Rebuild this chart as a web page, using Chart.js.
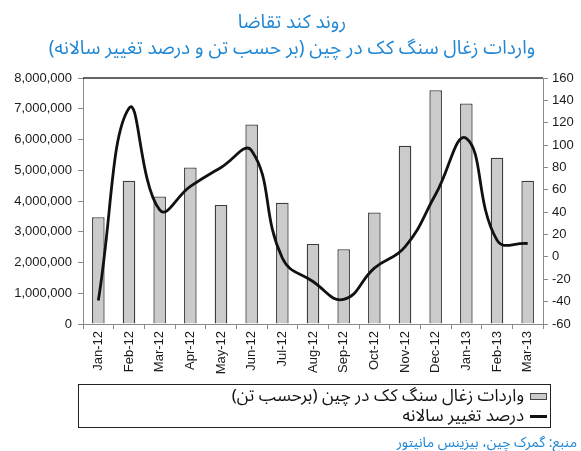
<!DOCTYPE html>
<html>
<head>
<meta charset="utf-8">
<script src="https://cdn.jsdelivr.net/npm/chart.js@4.4.1/dist/chart.umd.min.js"></script>
<style>
  html, body { margin: 0; padding: 0; background: #ffffff; }
  #wrap { position: relative; width: 581px; height: 451px; overflow: hidden; background: #fff; }
  #c { position: absolute; left: 0; top: 0; }
  .fa { font-family: "Noto Sans Arabic", "DejaVu Sans", sans-serif; direction: rtl; position: absolute; white-space: nowrap; line-height: 1; }
  .title { color: #1f86d3; font-size: 19px; left: 0; width: 584px; text-align: center; }
  #legend { position: absolute; left: 78px; top: 384px; width: 473px; height: 44px; border: 1px solid #222; box-sizing: border-box; }
  .lrow { position: absolute; right: 3px; height: 20px; display: flex; flex-direction: row; align-items: center; direction: rtl; font-family: "Noto Sans Arabic", "DejaVu Sans", sans-serif; font-size: 17px; color: #111; white-space: nowrap; line-height: 1; }
  .sw-bar { width: 15px; height: 5px; background: #cbcbcb; border: 1px solid #444; margin-left: 6px; }
  .sw-line { width: 17px; height: 3px; background: #111; margin-left: 6px; }
  #source { color: #1f86d3; font-size: 14px; right: 4px; top: 436px; }
</style>
</head>
<body>
<div id="wrap">
  <canvas id="c" width="581" height="451"></canvas>
  <div class="fa title" style="top:13px;">روند کند تقاضا</div>
  <div class="fa title" style="top:39px;">واردات زغال سنگ کک در چین (بر حسب تن و درصد تغییر سالانه)</div>
  <div id="legend">
    <div class="lrow" style="top:1px;"><span class="sw-bar"></span><span>واردات زغال سنگ کک در چین (برحسب تن)</span></div>
    <div class="lrow" style="top:21px;"><span class="sw-line"></span><span>درصد تغییر سالانه</span></div>
  </div>
  <div class="fa" id="source">منبع: گمرک چین، بیزینس مانیتور</div>
</div>
<script>
const months = ["Jan-12","Feb-12","Mar-12","Apr-12","May-12","Jun-12","Jul-12","Aug-12","Sep-12","Oct-12","Nov-12","Dec-12","Jan-13","Feb-13","Mar-13"];
const importsTons = [3470000, 4660000, 4150000, 5090000, 3870000, 6490000, 3940000, 2600000, 2430000, 3630000, 5800000, 7600000, 7170000, 5410000, 4660000];
const yoyChange = [-39, 133, 42, 63, 80, 95, -1, -22, -38, -10, 9, 56, 106, 15, 12];
const importsLabel = "واردات زغال سنگ کک در چین (برحسب تن)";
const yoyLabel = "درصد تغییر سالانه";

const axisFont = { family: "'Liberation Sans', Arial, sans-serif", size: 13 };
const gridCfg = { display: true, drawOnChartArea: false, drawTicks: true, tickLength: 5, color: '#8a8a8a', lineWidth: 1 };

const topBorder = {
  id: 'topBorder',
  afterDraw(chart) {
    const a = chart.chartArea, ctx = chart.ctx;
    ctx.save();
    ctx.strokeStyle = '#333';
    ctx.lineWidth = 1.5;
    ctx.beginPath();
    ctx.moveTo(a.left, a.top);
    ctx.lineTo(a.right, a.top);
    ctx.stroke();
    ctx.restore();
  }
};

new Chart(document.getElementById('c'), {
  type: 'bar',
  data: {
    labels: months,
    datasets: [
      {
        type: 'line', label: yoyLabel, data: yoyChange, yAxisID: 'y1',
        borderColor: '#111', borderWidth: 2.8, tension: 0.45, pointRadius: 0,
        fill: false, order: 0
      },
      {
        type: 'bar', label: importsLabel, data: importsTons, yAxisID: 'y',
        backgroundColor: '#cbcbcb', borderColor: '#3c3c3c', borderWidth: 1.3,
        barPercentage: 0.41, categoryPercentage: 1, order: 1
      }
    ]
  },
  options: {
    responsive: false, animation: false,
    layout: { padding: { top: 78, left: 0, right: 0, bottom: 0 } },
    plugins: { legend: { display: false }, title: { display: false }, tooltip: { enabled: false } },
    scales: {
      x: {
        grid: Object.assign({}, gridCfg, { offset: true }),
        border: { color: '#8a8a8a' },
        ticks: { minRotation: 90, maxRotation: 90, autoSkip: false, font: axisFont, color: '#1a1a1a', padding: 2 },
        afterFit: s => { s.height = 127; }
      },
      y: {
        position: 'left', min: 0, max: 8000000,
        grid: gridCfg, border: { color: '#8a8a8a' },
        ticks: { stepSize: 1000000, font: axisFont, color: '#1a1a1a', padding: 6,
                 callback: v => v.toLocaleString('en-US') },
        afterFit: s => { s.width = 83; }
      },
      y1: {
        position: 'right', min: -60, max: 160,
        grid: gridCfg, border: { color: '#8a8a8a' },
        ticks: { stepSize: 20, font: axisFont, color: '#1a1a1a', padding: 4 },
        afterFit: s => { s.width = 38; }
      }
    }
  },
  plugins: [topBorder]
});
</script>
</body>
</html>
